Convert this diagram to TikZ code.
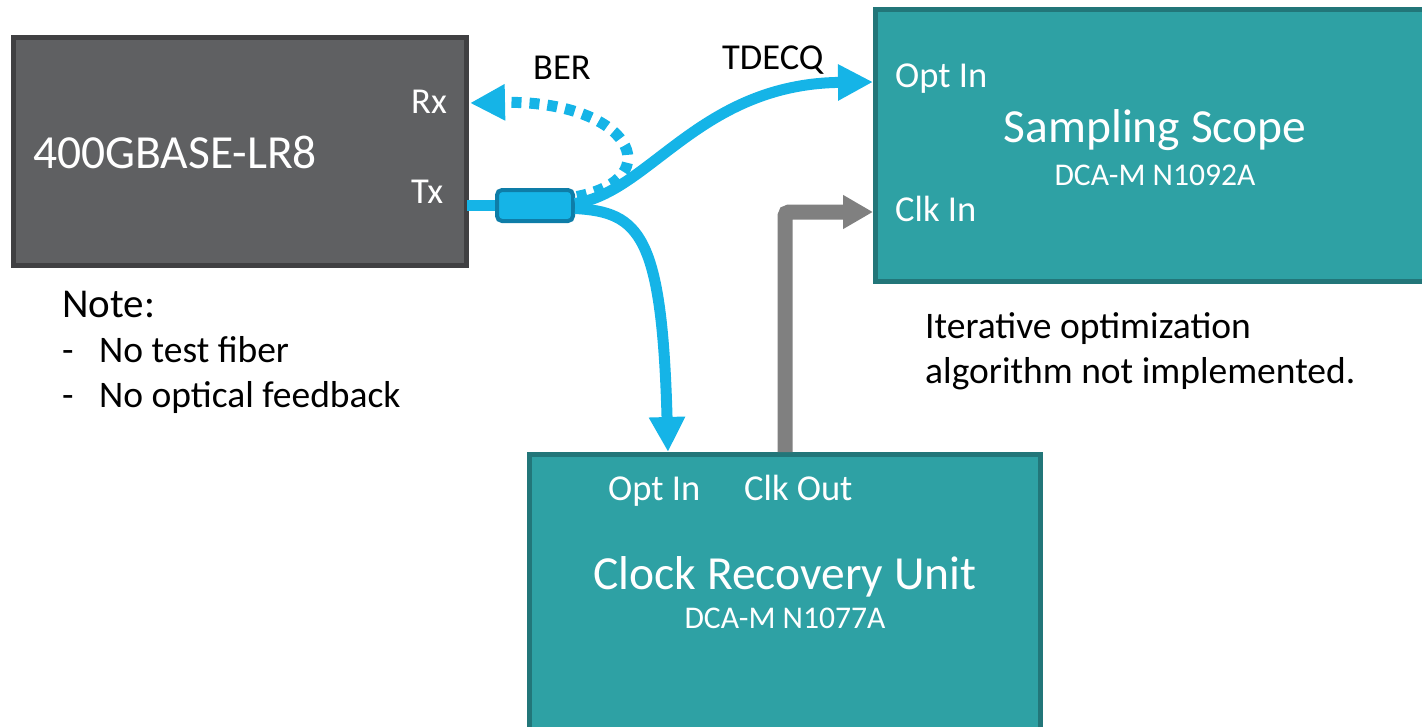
\documentclass[tikz,border=0pt]{standalone}
\usepackage{fontspec}
\setmainfont{Carlito}
\usetikzlibrary{arrows.meta}

\definecolor{fibre}{RGB}{21,180,231}
\definecolor{fibreDark}{RGB}{14,125,168}
\definecolor{clkGray}{RGB}{128,128,128}
\definecolor{instTeal}{RGB}{46,161,164}
\definecolor{instEdge}{RGB}{34,118,121}
\definecolor{devGray}{RGB}{95,96,98}
\definecolor{devEdge}{RGB}{64,64,66}

\newcommand{\bigtxt}{\fontsize{47.5}{57}\selectfont}
\newcommand{\labtxt}{\fontsize{36.5}{44}\selectfont}
\newcommand{\notetxt}{\fontsize{37.5}{45}\selectfont}
\newcommand{\headtxt}{\fontsize{41}{49}\selectfont}
\newcommand{\modtxt}{\fontsize{31.6}{38}\selectfont}

\tikzset{
	devbox/.style 	= {draw=devEdge, fill=devGray, line width=5pt, inner sep=0pt},
	instbox/.style 	= {draw=instEdge, fill=instTeal, line width=5pt, inner sep=0pt},
	splitbox/.style = {draw=fibreDark, fill=fibre, line width=4pt, rounded corners=5pt,
					   minimum width=76pt, minimum height=31pt, inner sep=0pt},
	port/.style 	= {text=white, inner sep=0pt, anchor=base west, font=\labtxt},
	remark/.style 	= {text=black, inner sep=0pt, anchor=base west, font=\labtxt},
	fibreline/.style = {draw=fibre, line width=11pt},
	fibretip/.style = {-{Triangle[length=35pt,width=34pt]}},
	clkline/.style 	= {draw=clkGray, line width=15pt, rounded corners=4pt,
					   -{Triangle[length=30pt,width=32pt]}},
}

\begin{document}
\begin{tikzpicture}[x=1pt, y=-1pt]
				%\draw[help lines] (0,0) grid (1422,726);
				\useasboundingbox (0,0) rectangle (1422,726);
				\clip (0,0) rectangle (1422,726);
				
				% boxes
				\node[devbox, minimum width=453pt, minimum height=228pt] (dev) at (240,151.5) {};
				\node[instbox, minimum width=562pt, minimum height=272pt] (scope) at (1156.5,145.5) {};
				\node[instbox, minimum width=511pt, minimum height=290pt] (cru) at (785,599.5) {};
				\node[splitbox] (spl) at (535,205.5) {};
				
				% ports
				\coordinate (devRx) at (470,103);
				\coordinate (devTx) at (467,205.5);
				\coordinate (scopeOpt) at (873,82);
				\coordinate (scopeClk) at (873,212);
				\coordinate (cruOpt) at (668,452);
				\coordinate (cruClk) at (785,452);
				
				% texts
				\node[port, font=\bigtxt] (devName) at (33,168) {400GBASE-LR8};
				\node[port] (rxLbl) at (411,113) {Rx};
				\node[port] (txLbl) at (411,203) {Tx};
				
				\node[port] (scopeOptLbl) at (895,87) {Opt In};
				\node[port, anchor=base, font=\bigtxt] (scopeName) at (1155,142) {Sampling Scope};
				\node[port, anchor=base, font=\modtxt] (scopeModel) at (1155,185) {DCA-M N1092A};
				\node[port] (scopeClkLbl) at (895,221) {Clk In};
				
				\node[port] (cruOptLbl) at (608,500) {Opt In};
				\node[port] (cruClkLbl) at (744,500) {Clk Out};
				\node[port, anchor=base, font=\bigtxt] (cruName) at (785,589) {Clock Recovery Unit};
				\node[port, anchor=base, font=\modtxt] (cruModel) at (785,628) {DCA-M N1077A};
				
				\node[remark] (berLbl) at (533,79) {BER};
				\node[remark] (tdecqLbl) at (722,69) {TDECQ};
				
				\node[remark, font=\headtxt] (note) at (62,317) {Note:};
				\node[remark, font=\notetxt] (dashA) at (62,362) {-};
				\node[remark, font=\notetxt] (itemA) at (99,362) {No test fiber};
				\node[remark, font=\notetxt] (dashB) at (62,407) {-};
				\node[remark, font=\notetxt] (itemB) at (99,407) {No optical feedback};
				
				\node[remark, font=\notetxt] (algoA) at (925,338) {Iterative optimization};
				\node[remark, font=\notetxt] (algoB) at (925,383) {algorithm not implemented.};
				
				% fibres
				\draw[fibreline] (devTx) -- (spl.west);
				\draw[fibreline, fibretip] ([yshift=2pt]spl.east) .. controls (650,192) and (700,84) .. (scopeOpt);
				\draw[fibreline, fibretip] ([yshift=-3pt]spl.east) .. controls (640,212) and (662,235) .. (cruOpt);
				\draw[fibreline, fibretip, dash pattern=on 10pt off 8pt] ([xshift=2pt,yshift=9pt]spl.east) .. controls (670,178) and (630,100) .. (devRx);
				
				% clock
				\draw[clkline] (cruClk) |- (scopeClk);
\end{tikzpicture}
\end{document}
